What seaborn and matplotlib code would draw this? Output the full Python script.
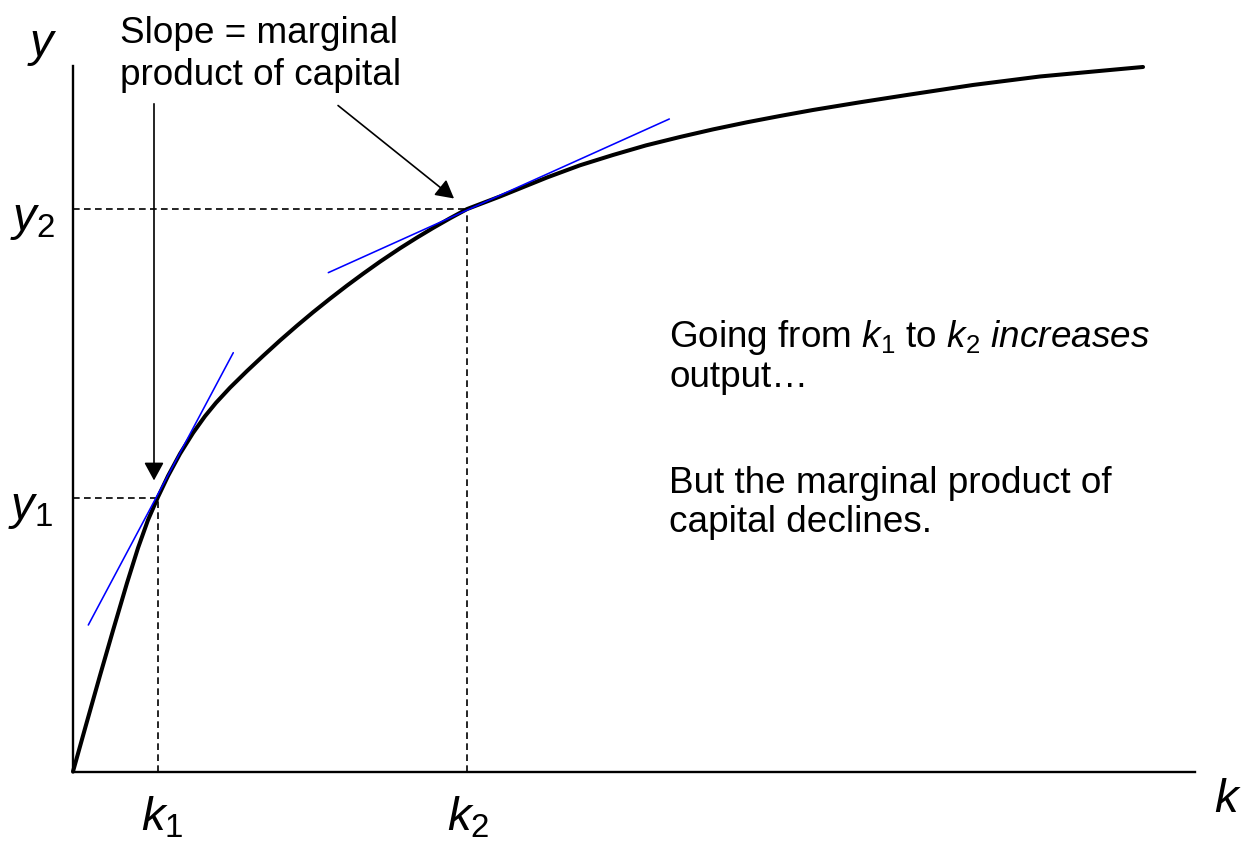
import numpy as np
import matplotlib
matplotlib.use("Agg")
import matplotlib.pyplot as plt
import seaborn as sns

# ---- data ----
capital = [0.0, 0.1215, 0.2523, 0.3738, 0.5047, 0.6075, 0.7009, 0.7944, 0.8879, 1.0000,
           1.1215, 1.2336, 1.3364, 1.4673, 1.6262, 1.7757, 1.9346, 2.0935, 2.2430, 2.4019,
           2.5607, 2.7103, 2.8692, 3.0561, 3.2150, 3.3645, 3.5234, 3.6822, 3.9907, 4.4299,
           4.7383, 5.0467, 5.3551, 5.6729, 5.9813, 6.2991, 6.6075, 6.9159, 7.3551, 7.7944,
           8.4112, 9.0374, 9.6636, 10.0]
output = [0.0, 0.4346, 0.8972, 1.3178, 1.7617, 2.0888, 2.3505, 2.5654, 2.7617, 2.9692,
          3.1636, 3.3206, 3.4458, 3.5869, 3.7430, 3.8832, 4.0280, 4.1664, 4.2916, 4.4187,
          4.5411, 4.6514, 4.7645, 4.8897, 4.9897, 5.0794, 5.1701, 5.2561, 5.3738, 5.5514,
          5.6654, 5.7617, 5.8514, 5.9299, 6.0009, 6.0673, 6.1262, 6.1822, 6.2542, 6.3224,
          6.4159, 6.4953, 6.5533, 6.5841]

k_points = [0.794, 3.682]          # k1, k2
y_points = [2.56, 5.254]           # y1, y2

tangent1_k = [0.143, 1.498]
tangent1_y = [1.369, 3.914]
tangent2_k = [2.386, 5.573]
tangent2_y = [4.662, 6.098]

x_axis_end = 10.486
y_axis_end = 6.59

k_labels = [r"$k_1$", r"$k_2$"]
y_labels = [r"$y_1$", r"$y_2$"]

# ---- style ----
sns.set_theme(style="white")
plt.rcParams["font.family"] = ["Liberation Sans", "DejaVu Sans"]
plt.rcParams["text.color"] = "black"
plt.rcParams["mathtext.fontset"] = "custom"
plt.rcParams["mathtext.rm"] = "Liberation Sans"
plt.rcParams["mathtext.it"] = "Liberation Sans:italic"
plt.rcParams["mathtext.bf"] = "Liberation Sans:bold"

fig = plt.figure(figsize=(12.45, 8.43), dpi=100)
ax = fig.add_axes([0, 0, 1, 1])
ax.set_xlim(-0.6822, 10.953)
ax.set_ylim(-0.668, 7.210)
ax.set_xticks([])
ax.set_yticks([])
ax.set_facecolor("white")

# axes as spines through the origin
for side in ["top", "right"]:
    ax.spines[side].set_visible(False)
ax.spines["left"].set_position(("data", 0))
ax.spines["bottom"].set_position(("data", 0))
ax.spines["left"].set_bounds(0, y_axis_end)
ax.spines["bottom"].set_bounds(0, x_axis_end)
for side in ["left", "bottom"]:
    ax.spines[side].set_color("black")
    ax.spines[side].set_linewidth(1.7)
    ax.spines[side].set_zorder(1)

# production function
sns.lineplot(x=capital, y=output, ax=ax, color="black", linewidth=2.9,
             sort=False, estimator=None, zorder=4, solid_joinstyle="round")

# tangent lines
sns.lineplot(x=tangent1_k, y=tangent1_y, ax=ax, color="#0000ff", linewidth=1.15,
             sort=False, estimator=None, zorder=5)
sns.lineplot(x=tangent2_k, y=tangent2_y, ax=ax, color="#0000ff", linewidth=1.15,
             sort=False, estimator=None, zorder=5)

# dashed guides
dash = (0, (4.0, 2.6))
for kv, yv in zip(k_points, y_points):
    ax.plot([0, kv], [yv, yv], color="black", lw=1.2, linestyle=dash, zorder=3)
    ax.plot([kv, kv], [0, yv], color="black", lw=1.2, linestyle=dash, zorder=3)

PX = 0.72  # points per pixel at 100 dpi
lab_fs = 34
txt_fs = 26.6

# tick-like labels
for kv, lab, dx in zip(k_points, k_labels, [4.5, 1.5]):
    ax.annotate(lab, xy=(kv, 0), xytext=(dx * PX, -59 * PX), textcoords="offset points",
                ha="center", va="baseline", fontsize=lab_fs)
for yv, lab, dx in zip(y_points, y_labels, [-42.5, -41]):
    ax.annotate(lab, xy=(0, yv), xytext=(dx * PX, -21 * PX), textcoords="offset points",
                ha="center", va="baseline", fontsize=lab_fs)

# axis names
ax.annotate(r"$k$", xy=(x_axis_end, 0), xytext=(33 * PX, -40.5 * PX),
            textcoords="offset points", ha="center", va="baseline", fontsize=lab_fs)
ax.annotate(r"$y$", xy=(0, y_axis_end), xytext=(-31 * PX, 10 * PX),
            textcoords="offset points", ha="center", va="baseline", fontsize=lab_fs)

# annotation text
ax.text(0.439, 6.808, "Slope = marginal", fontsize=txt_fs, ha="left", va="baseline")
ax.text(0.439, 6.416, "product of capital", fontsize=txt_fs, ha="left", va="baseline")

ax.text(5.570, 3.967, r"Going from $k_1$ to $k_2$ $\mathit{increases}$",
        fontsize=txt_fs, ha="left", va="baseline")
ax.text(5.570, 3.593, "output\u2026", fontsize=txt_fs, ha="left", va="baseline")
ax.text(5.570, 2.603, "But the marginal product of", fontsize=txt_fs, ha="left", va="baseline")
ax.text(5.570, 2.238, "capital declines.", fontsize=txt_fs, ha="left", va="baseline")

# arrows
arrow_kw = dict(arrowstyle="-|>,head_length=0.55,head_width=0.3", color="black",
                lw=1.2, shrinkA=0, shrinkB=0, mutation_scale=20)
ax.annotate("", xy=(0.757, 2.72), xytext=(0.757, 6.24), arrowprops=arrow_kw)
ax.annotate("", xy=(3.561, 5.355), xytext=(2.477, 6.224), arrowprops=arrow_kw)

fig.savefig("out.png", dpi=100, facecolor="white")
